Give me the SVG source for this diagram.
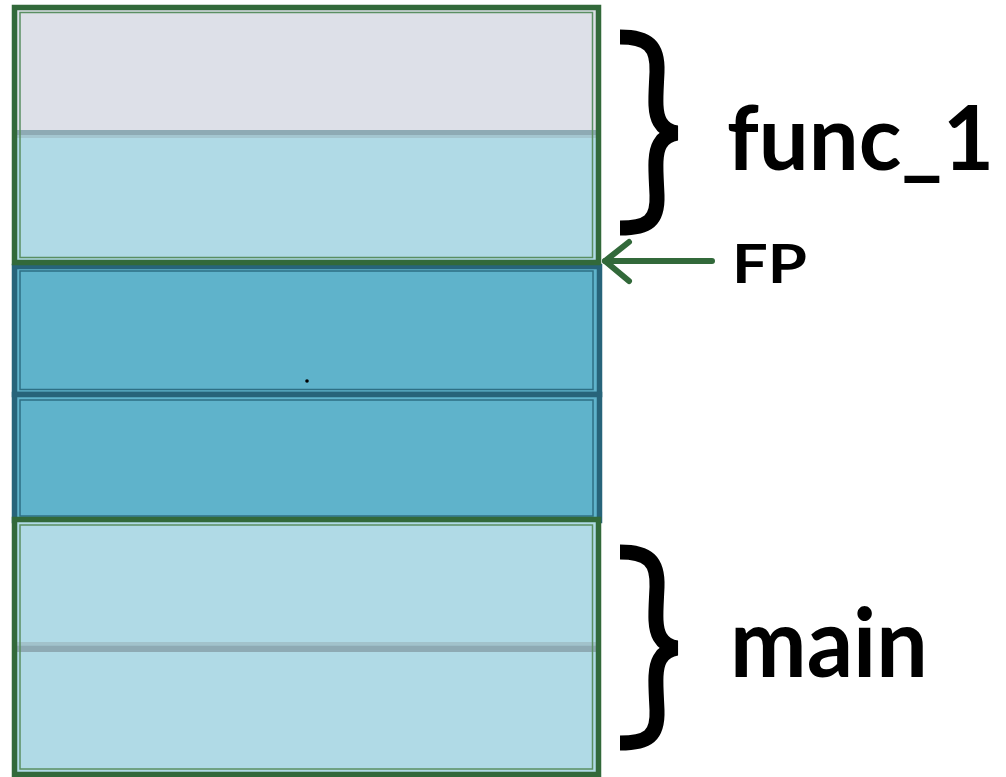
<svg xmlns="http://www.w3.org/2000/svg" width="1006" height="777" viewBox="0 0 1006 777">
  <style>
    .frame-green { fill: none; stroke: #32693a; stroke-width: 5.5; }
    .inner-green { fill: none; stroke: #5a8f62; stroke-width: 1.5; }
    .frame-teal { fill: #5fb3cb; stroke: #27647a; stroke-width: 5.5; }
    .inner-teal { fill: none; stroke: #2e6f84; stroke-width: 1.5; }
    .brace { fill: none; stroke: #000; stroke-width: 15; stroke-linecap: butt; }
    .label { font-family: Lato, "Open Sans", "Liberation Sans", sans-serif; font-weight: 700; fill: #000; }
    .ptr { fill: none; stroke: #32693a; stroke-width: 6; stroke-linecap: round; stroke-linejoin: round; }
  </style>
  <rect width="1006" height="777" fill="#ffffff"/>

  <!-- teal cells between the frames -->
  <g id="cell-a">
    <rect class="frame-teal" x="14.5" y="266.5" width="585" height="128"/>
    <rect class="inner-teal" x="20" y="271" width="573" height="118.5"/>
    <circle cx="307" cy="381" r="1.8" fill="#000"/>
  </g>
  <g id="cell-b">
    <rect class="frame-teal" x="14.5" y="394.5" width="585" height="126"/>
    <rect class="inner-teal" x="20" y="400" width="573" height="116"/>
  </g>

  <!-- func_1 frame -->
  <g id="func1-frame">
    <rect x="16" y="9" width="581" height="123" fill="#dde0e8"/>
    <rect x="16" y="136" width="581" height="124" fill="#b0dae6"/>
    <rect x="16" y="130" width="581" height="5" fill="#8eaab4"/>
    <rect x="16" y="135" width="581" height="3" fill="#a4c6d0"/>
    <rect class="inner-green" x="20" y="12.5" width="572.5" height="245"/>
    <rect class="frame-green" x="14.5" y="7.5" width="584" height="255"/>
  </g>

  <!-- main frame -->
  <g id="main-frame">
    <rect x="16" y="520" width="581" height="255" fill="#b0dae6"/>
    <rect x="16" y="642" width="581" height="3.5" fill="#a2c2cb"/>
    <rect x="16" y="645.5" width="581" height="6.5" fill="#8eaab4"/>
    <rect class="inner-green" x="20" y="525" width="572.5" height="244"/>
    <rect class="frame-green" x="14.5" y="519.5" width="584" height="255"/>
  </g>

  <!-- braces and labels -->
  <g id="func1-label">
    <path class="brace" d="M620,37 C648,37 658,46 657,72 C656,95 654,112 660,122 C664,129 670,132 677,133 C670,134 664,137 660,144 C654,154 656,172 657,195 C658,221 648,228 620,228"/>
    <text class="label" x="727" y="170" font-size="89" textLength="267" lengthAdjust="spacingAndGlyphs">func_1</text>
  </g>
  <g id="main-label">
    <path class="brace" d="M620,552 C648,552 658,561 657,587 C656,610 654,627 660,637 C664,644 670,647 677,648 C670,649 664,652 660,659 C654,669 656,687 657,710 C658,736 648,743 620,743"/>
    <text class="label" x="730" y="677" font-size="96" textLength="198" lengthAdjust="spacingAndGlyphs">main</text>
  </g>
  <g id="fp-label">
    <text class="label" x="732" y="283" font-size="54" textLength="75" lengthAdjust="spacingAndGlyphs">FP</text>
  </g>

  <!-- pointer -->
  <g id="connectors">
    <path class="ptr" d="M712,261 L605,261"/>
    <path class="ptr" d="M629,242 L605,261 L629,281"/>
  </g>
</svg>
